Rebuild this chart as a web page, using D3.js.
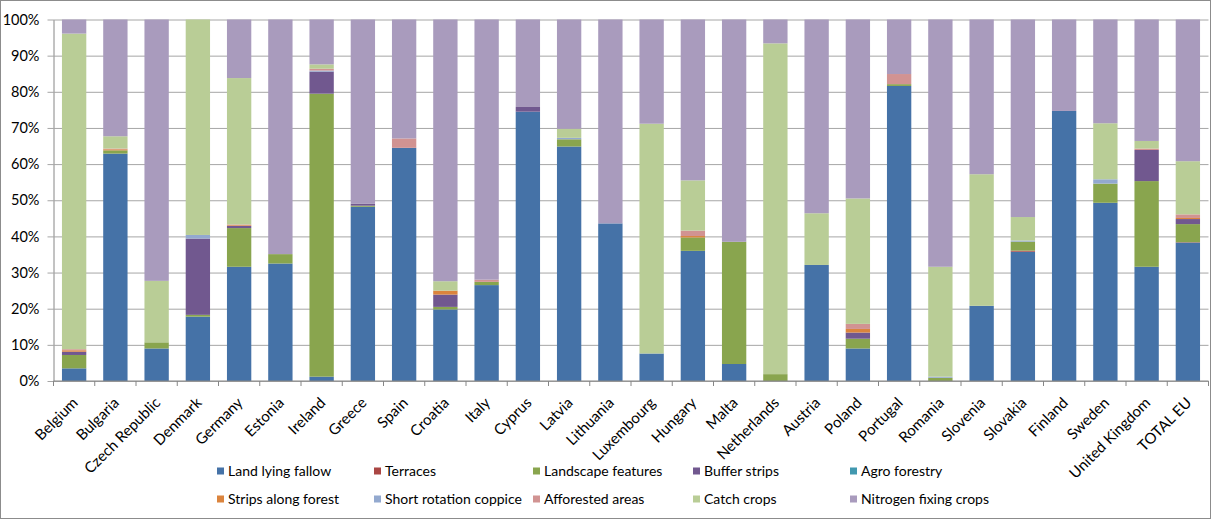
<!DOCTYPE html>
<html>
<head>
<script src="https://cdn.jsdelivr.net/npm/d3@7"></script>
<style>
	body { margin: 0; background: #fff; }
	svg { display: block; font-family: Lato, "Liberation Sans", sans-serif; }
</style>
</head>
<body>
<div id="container"></div>
<script>
	const width = 1212, height = 519;

	const countries = ["Belgium", "Bulgaria", "Czech Republic", "Denmark", "Germany", "Estonia", "Ireland", "Greece", "Spain", "Croatia",
		"Italy", "Cyprus", "Latvia", "Lithuania", "Luxembourg", "Hungary", "Malta", "Netherlands", "Austria", "Poland",
		"Portugal", "Romania", "Slovenia", "Slovakia", "Finland", "Sweden", "United Kingdom", "TOTAL EU"];

	const seriesNames = ["Land lying fallow", "Terraces", "Landscape features", "Buffer strips", "Agro forestry",
		"Strips along forest", "Short rotation coppice", "Afforested areas", "Catch crops", "Nitrogen fixing crops"];

	const colors = ["#4572A7", "#AA4643", "#89A54E", "#71588F", "#4198AF", "#DB843D", "#93A9CF", "#D19392", "#B9CD96", "#A99BBD"];

	// percent of EFA per country, one array per series, same order as countries
	const fallow     = [3.5, 62.9, 9.0, 17.8, 31.6, 32.5, 1.2, 48.2, 64.5, 19.8, 26.5, 74.5, 64.8, 43.6, 7.6, 36.0, 4.7, 0, 32.1, 9.0, 81.7, 0, 20.8, 35.8, 74.7, 49.3, 31.6, 38.3];
	const terraces   = [0, 0, 0, 0, 0, 0, 0, 0, 0, 0, 0, 0, 0, 0, 0, 0, 0, 0, 0, 0, 0, 0, 0, 0.3, 0, 0, 0, 0.1];
	const landscape  = [3.7, 0.9, 1.7, 0.5, 10.7, 2.6, 78.2, 0.3, 0, 0.7, 0.9, 0, 2.0, 0, 0, 3.7, 33.8, 1.9, 0, 2.7, 0.5, 0.9, 0, 2.5, 0, 5.3, 23.7, 5.0];
	const buffer     = [0.9, 0, 0, 21.1, 0.6, 0, 6.1, 0.5, 0, 3.4, 0, 1.3, 0, 0, 0, 0, 0, 0, 0, 1.7, 0, 0, 0, 0, 0, 0, 8.6, 1.4];
	const agro       = [0, 0, 0, 0, 0, 0, 0, 0, 0, 0, 0, 0, 0, 0, 0, 0, 0, 0, 0, 0, 0, 0, 0, 0, 0, 0, 0, 0];
	const strips     = [0.4, 0.3, 0, 0, 0.2, 0, 0, 0, 0, 1.1, 0, 0, 0, 0, 0, 0.4, 0, 0, 0, 1.0, 0, 0, 0, 0, 0, 0, 0, 0.3];
	const coppice    = [0, 0, 0, 1.0, 0, 0, 0.3, 0, 0, 0, 0, 0, 0.4, 0, 0, 0, 0, 0, 0, 0, 0, 0.3, 0, 0.3, 0, 1.2, 0, 0];
	const afforested = [0.3, 0.2, 0, 0, 0.2, 0, 0.5, 0, 2.6, 0, 0.6, 0, 0, 0, 0, 1.5, 0, 0, 0, 1.4, 2.8, 0, 0, 0, 0, 0, 0.4, 1.0];
	const catchCrops = [87.3, 3.4, 17.0, 59.6, 40.5, 0, 1.2, 0, 0, 2.6, 0, 0, 2.5, 0, 63.5, 13.9, 0, 91.5, 14.3, 34.7, 0, 30.4, 36.4, 6.5, 0, 15.5, 2.1, 14.7];
	const nitrogen   = [3.9, 32.3, 72.3, 0, 16.2, 64.9, 12.4, 51.0, 32.9, 72.4, 71.9, 24.2, 30.2, 56.4, 28.8, 44.5, 61.5, 6.6, 53.6, 49.5, 15.1, 68.4, 42.8, 54.7, 25.3, 28.7, 33.6, 39.2];

	const yTicks = [0, 0.1, 0.2, 0.3, 0.4, 0.5, 0.6, 0.7, 0.8, 0.9, 1];

	const allSeries = [fallow, terraces, landscape, buffer, agro, strips, coppice, afforested, catchCrops, nitrogen];

	// rows for d3.stack
	const table = countries.map(function(c, i) {
		const row = { country: c };
		seriesNames.forEach(function(s, j) { row[s] = allSeries[j][i]; });
		return row;
	});

	const stacked = d3.stack().keys(seriesNames).offset(d3.stackOffsetExpand)(table);

	const plotL = 53.5, plotR = 1208.5, plotT = 19.5, plotB = 381;

	const x = d3.scaleBand().domain(countries).range([plotL, plotR]).paddingInner(0.41).paddingOuter(0.205);
	const y = d3.scaleLinear().domain([0, 1]).range([plotB, plotT]);
	const step = x.step();

	const svg = d3.select("#container").append("svg").attr("width", width).attr("height", height);

	// outer chart border
	svg.append("rect").attr("x", 0.5).attr("y", 0.5).attr("width", width - 2).attr("height", height - 1)
		.attr("fill", "none").attr("stroke", "#8c8c8c");

	/* gridlines and y axis */
	const yAxis = d3.axisLeft(y).tickValues(yTicks).tickFormat(d3.format(".0%"))
		.tickSize(-(plotR - plotL)).tickSizeOuter(0).tickPadding(14);

	const gy = svg.append("g").attr("transform", "translate(" + plotL + ",0)").call(yAxis);
	gy.select(".domain").attr("stroke", "#868686");
	gy.selectAll(".tick line").attr("stroke", "#a6a6a6").attr("x1", -6);
	gy.selectAll(".tick text").attr("font-size", "14.5px").attr("fill", "#000")
		.attr("font-family", "Lato, 'Liberation Sans', sans-serif");

	/* bars */
	svg.append("g").selectAll("g").data(stacked).enter().append("g")
		.attr("fill", function(d, i) { return colors[i]; })
		.selectAll("rect").data(function(d) { return d; }).enter().append("rect")
		.attr("x", function(d) { return x(d.data.country); })
		.attr("width", x.bandwidth())
		.attr("y", function(d) { return y(d[1]); })
		.attr("height", function(d) { return y(d[0]) - y(d[1]); });

	/* x axis */
	const gx = svg.append("g");
	gx.append("line").attr("x1", plotL).attr("x2", plotR).attr("y1", plotB).attr("y2", plotB).attr("stroke", "#868686");
	gx.selectAll(".tk").data(d3.range(countries.length + 1)).enter().append("line")
		.attr("x1", function(i) { return plotL + i * step; })
		.attr("x2", function(i) { return plotL + i * step; })
		.attr("y1", plotB).attr("y2", plotB + 5).attr("stroke", "#868686");

	gx.selectAll("text").data(countries).enter().append("text")
		.attr("transform", function(d) { return "translate(" + (x(d) + x.bandwidth() / 2 + 1) + "," + (plotB + 19) + ") rotate(-45)"; })
		.attr("text-anchor", "end").attr("dy", "0.35em")
		.attr("font-size", "15px").attr("fill", "#000")
		.text(function(d) { return d; });

	/* legend */
	const legendX = [217, 374, 533, 693, 850];
	const legendY = [471, 499];
	const lg = svg.append("g").selectAll("g").data(seriesNames).enter().append("g")
		.attr("transform", function(d, i) { return "translate(" + legendX[i % 5] + "," + legendY[Math.floor(i / 5)] + ")"; });
	lg.append("rect").attr("x", 0).attr("y", -3.5).attr("width", 7).attr("height", 7)
		.attr("fill", function(d, i) { return colors[i]; });
	lg.append("text").attr("x", 11).attr("dy", "0.35em").attr("font-size", "14px").attr("fill", "#000")
		.text(function(d) { return d; });
</script>
</body>
</html>
